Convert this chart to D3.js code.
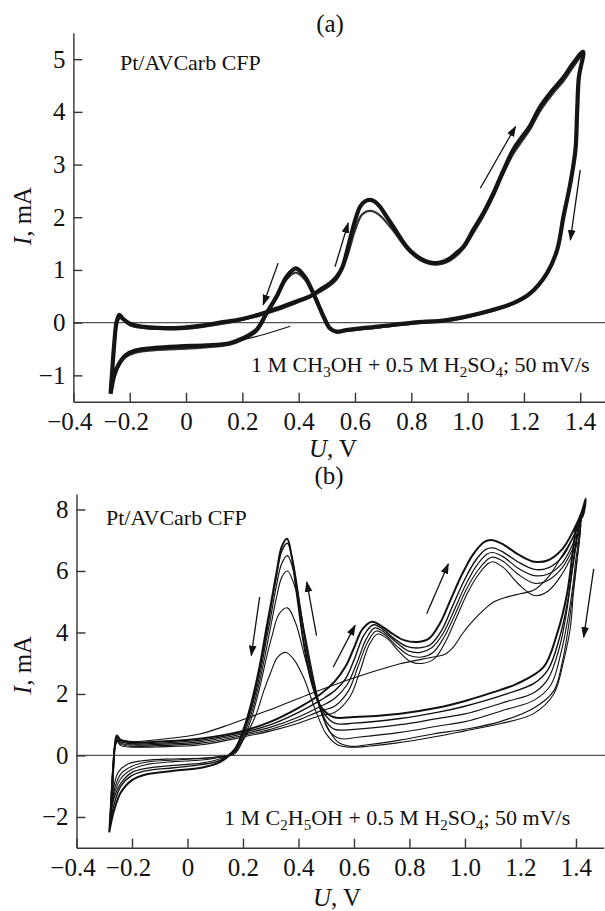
<!DOCTYPE html>
<html lang="en">
<head>
<meta charset="UTF-8">
<title>CV Pt/AVCarb CFP</title>
<script src="https://d3js.org/d3.v7.min.js"></script>
<style>
  body { margin: 0; background: #fff; }
  text { font-family: "Liberation Serif", "DejaVu Serif", serif; fill: #111; }
</style>
</head>
<body>
<script>
// tick values
const uTicks = [-0.4, -0.2, 0, 0.2, 0.4, 0.6, 0.8, 1.0, 1.2, 1.4];
const iTicksA = [-1, 0, 1, 2, 3, 4, 5];
const iTicksB = [-2, 0, 2, 4, 6, 8];

// panel (a): methanol, [U (V), I (mA)]
const cycleA1 = [
  [-0.268,-1.35],[-0.262,-0.9],[-0.255,-0.4],[-0.247,0.0],[-0.237,0.15],[-0.225,0.08],[-0.2,-0.02],
  [-0.15,-0.08],[-0.1,-0.1],[-0.02,-0.1],[0.05,-0.06],[0.12,0.0],[0.2,0.07],[0.274,0.18],[0.33,0.28],
  [0.392,0.4],[0.44,0.5],[0.475,0.62],[0.51,0.74],[0.535,0.87],[0.555,1.05],[0.57,1.32],[0.594,1.82],
  [0.618,2.2],[0.635,2.3],[0.653,2.33],[0.67,2.3],[0.689,2.2],[0.71,2.03],[0.736,1.82],[0.76,1.62],
  [0.784,1.44],[0.81,1.3],[0.831,1.22],[0.86,1.15],[0.885,1.13],[0.91,1.15],[0.938,1.22],[0.96,1.32],
  [0.985,1.44],[1.02,1.76],[1.056,2.08],[1.092,2.46],[1.128,2.9],[1.162,3.28],[1.19,3.5],[1.22,3.72],
  [1.258,4.1],[1.3,4.4],[1.34,4.65],[1.376,4.93],[1.41,5.14],
  [1.395,4.65],[1.389,4.0],[1.383,3.28],[1.365,2.65],[1.34,2.0],[1.318,1.38],[1.282,0.94],[1.223,0.56],
  [1.162,0.37],[1.045,0.18],[0.926,0.05],[0.807,0.0],[0.69,-0.07],[0.57,-0.14],[0.535,-0.17],[0.51,-0.1],
  [0.49,0.1],[0.452,0.56],[0.422,0.87],[0.39,1.03],[0.357,0.87],[0.321,0.49],[0.286,0.18],[0.25,-0.14],
  [0.2,-0.3],[0.155,-0.39],[0.07,-0.43],[-0.023,-0.45],[-0.11,-0.48],[-0.18,-0.53],[-0.215,-0.62],
  [-0.24,-0.8],[-0.255,-1.0],[-0.263,-1.2],[-0.268,-1.35]
];
const cycleA2 = [
  [-0.266,-1.3],[-0.26,-0.8],[-0.252,-0.3],[-0.243,0.02],[-0.232,0.1],[-0.2,-0.05],[-0.1,-0.12],
  [0.0,-0.12],[0.12,-0.03],[0.2,0.05],[0.28,0.16],[0.39,0.37],[0.475,0.58],[0.535,0.82],[0.57,1.22],
  [0.6,1.75],[0.625,2.05],[0.655,2.12],[0.685,2.05],[0.735,1.75],[0.784,1.4],[0.831,1.19],[0.885,1.1],
  [0.938,1.18],[0.985,1.4],[1.02,1.7],[1.056,2.02],[1.092,2.4],[1.128,2.84],[1.162,3.2],[1.19,3.42],
  [1.22,3.65],[1.258,4.02],[1.3,4.33],[1.34,4.58],[1.376,4.86],[1.405,5.05],
  [1.393,4.6],[1.387,3.9],[1.38,3.2],[1.362,2.6],[1.338,1.95],[1.315,1.33],[1.28,0.9],[1.22,0.53],
  [1.16,0.35],[1.045,0.16],[0.926,0.03],[0.807,-0.02],[0.69,-0.09],[0.57,-0.16],[0.535,-0.19],[0.51,-0.12],
  [0.488,0.08],[0.452,0.52],[0.422,0.82],[0.39,0.95],[0.357,0.82],[0.321,0.46],[0.286,0.15],[0.25,-0.17],
  [0.2,-0.33],[0.155,-0.42],[0.07,-0.47],[-0.023,-0.5],[-0.11,-0.52],[-0.18,-0.57],[-0.215,-0.66],
  [-0.24,-0.84],[-0.255,-1.05],[-0.263,-1.2],[-0.266,-1.3]
];
const startA = [[0.2,-0.33],[0.28,-0.22],[0.37,-0.07]];
const arrowsA = [
  [[0.327,1.13],[0.274,0.34]],
  [[0.529,1.06],[0.576,1.89]],
  [[1.045,2.55],[1.17,3.72]],
  [[1.40,2.9],[1.365,1.57]]
];

// panel (b): ethanol, six cycles, forward then backward
const cycleB1 = [
  [-0.282,-2.5],[-0.27,-0.8],[-0.262,0.3],[-0.255,0.65],[-0.24,0.5],[-0.2,0.42],[-0.1,0.45],[0.05,0.55],
  [0.2,0.8],[0.3,1.1],[0.4,1.55],[0.48,2.0],[0.53,2.4],[0.57,2.9],[0.6,3.5],[0.63,4.1],[0.665,4.35],
  [0.7,4.2],[0.74,3.95],[0.78,3.75],[0.83,3.69],[0.87,3.8],[0.91,4.3],[0.95,5.1],[0.99,5.9],[1.03,6.55],
  [1.07,6.95],[1.1,7.0],[1.14,6.85],[1.19,6.55],[1.25,6.3],[1.3,6.35],[1.35,6.7],[1.39,7.3],[1.42,7.9],
  [1.435,8.35],
  [1.425,7.8],[1.404,7.53],[1.392,6.88],[1.368,5.26],[1.332,3.96],[1.283,2.87],[1.187,2.33],[1.1,2.05],
  [1.007,1.79],[0.9,1.55],[0.766,1.36],[0.6,1.25],[0.525,1.25],[0.48,1.6],[0.45,2.3],[0.42,3.6],
  [0.395,5.2],[0.375,6.5],[0.359,7.05],[0.34,6.8],[0.32,5.9],[0.3,4.9],[0.285,4.17],[0.26,2.9],
  [0.23,1.7],[0.2,0.8],[0.17,0.2],[0.12,-0.2],[0.05,-0.4],[-0.05,-0.5],[-0.15,-0.62],[-0.2,-0.8],
  [-0.24,-1.2],[-0.265,-1.8],[-0.282,-2.5]
];
const cycleB2 = [
  [-0.28,-2.3],[-0.27,-0.6],[-0.262,0.3],[-0.255,0.6],[-0.24,0.45],[-0.2,0.38],[-0.1,0.4],[0.05,0.5],
  [0.2,0.75],[0.3,1.0],[0.4,1.4],[0.48,1.8],[0.53,2.1],[0.57,2.5],[0.6,3.1],[0.635,3.9],[0.67,4.25],
  [0.705,4.1],[0.745,3.8],[0.79,3.55],[0.835,3.5],[0.875,3.6],[0.915,4.05],[0.955,4.85],[0.995,5.65],
  [1.035,6.3],[1.075,6.7],[1.1,6.75],[1.14,6.6],[1.19,6.3],[1.25,6.05],[1.3,6.1],[1.35,6.45],[1.39,7.1],
  [1.415,7.6],[1.43,8.1],
  [1.42,7.7],[1.405,7.2],[1.39,6.3],[1.37,5.0],[1.34,3.8],[1.3,2.8],[1.25,2.35],[1.15,2.0],[1.0,1.6],
  [0.9,1.4],[0.766,1.2],[0.6,1.05],[0.53,1.05],[0.49,1.4],[0.46,2.1],[0.43,3.4],[0.405,4.9],[0.38,6.3],
  [0.36,6.9],[0.34,6.65],[0.32,5.8],[0.3,4.8],[0.285,4.0],[0.26,2.8],[0.23,1.6],[0.2,0.75],[0.17,0.2],
  [0.12,-0.15],[0.05,-0.3],[-0.05,-0.4],[-0.15,-0.5],[-0.2,-0.65],[-0.24,-1.0],[-0.265,-1.6],[-0.28,-2.3]
];
const cycleB3 = [
  [-0.278,-2.0],[-0.27,-0.5],[-0.262,0.3],[-0.255,0.55],[-0.24,0.4],[-0.2,0.34],[-0.1,0.36],[0.05,0.45],
  [0.2,0.7],[0.3,0.92],[0.4,1.25],[0.48,1.6],[0.53,1.85],[0.575,2.3],[0.61,3.0],[0.645,3.8],[0.675,4.15],
  [0.71,4.0],[0.75,3.7],[0.795,3.4],[0.84,3.35],[0.88,3.5],[0.92,3.95],[0.96,4.7],[1.0,5.5],[1.04,6.15],
  [1.08,6.55],[1.1,6.6],[1.14,6.45],[1.19,6.1],[1.25,5.85],[1.3,5.9],[1.35,6.25],[1.39,6.9],[1.41,7.4],
  [1.425,7.9],
  [1.41,7.4],[1.4,6.8],[1.385,5.9],[1.365,4.6],[1.34,3.5],[1.3,2.5],[1.25,2.05],[1.15,1.75],[1.0,1.35],
  [0.9,1.2],[0.766,1.0],[0.6,0.85],[0.53,0.85],[0.5,1.1],[0.47,1.8],[0.44,3.0],[0.41,4.5],[0.385,5.9],
  [0.36,6.5],[0.34,6.25],[0.32,5.5],[0.3,4.5],[0.285,3.8],[0.26,2.6],[0.23,1.5],[0.2,0.7],[0.17,0.15],
  [0.12,-0.1],[0.05,-0.25],[-0.05,-0.32],[-0.15,-0.42],[-0.2,-0.55],[-0.24,-0.9],[-0.265,-1.4],[-0.278,-2.0]
];
const cycleB4 = [
  [-0.275,-1.8],[-0.268,-0.4],[-0.262,0.3],[-0.255,0.5],[-0.24,0.36],[-0.2,0.3],[-0.1,0.32],[0.05,0.4],
  [0.2,0.65],[0.3,0.85],[0.4,1.15],[0.48,1.45],[0.53,1.6],[0.58,2.1],[0.615,2.9],[0.65,3.7],[0.68,4.05],
  [0.715,3.9],[0.755,3.55],[0.8,3.25],[0.845,3.2],[0.885,3.35],[0.925,3.85],[0.965,4.6],[1.005,5.4],
  [1.045,6.0],[1.085,6.4],[1.1,6.45],[1.14,6.3],[1.19,5.9],[1.25,5.6],[1.3,5.7],[1.35,6.1],[1.39,6.75],
  [1.41,7.2],[1.42,7.7],
  [1.41,7.0],[1.4,6.4],[1.39,5.6],[1.37,4.4],[1.345,3.3],[1.31,2.3],[1.25,1.8],[1.15,1.5],[1.0,1.1],
  [0.9,0.95],[0.766,0.75],[0.62,0.6],[0.55,0.55],[0.51,0.8],[0.48,1.5],[0.45,2.7],[0.42,4.1],[0.39,5.4],
  [0.36,6.0],[0.34,5.8],[0.32,5.1],[0.3,4.2],[0.285,3.5],[0.26,2.4],[0.23,1.35],[0.2,0.6],[0.17,0.1],
  [0.12,-0.05],[0.05,-0.15],[-0.05,-0.2],[-0.15,-0.3],[-0.2,-0.45],[-0.24,-0.75],[-0.262,-1.2],[-0.275,-1.8]
];
const cycleB5 = [
  [-0.272,-1.5],[-0.266,-0.3],[-0.26,0.3],[-0.253,0.45],[-0.24,0.32],[-0.2,0.27],[-0.1,0.28],[0.05,0.35],
  [0.2,0.6],[0.3,0.8],[0.4,1.05],[0.48,1.3],[0.53,1.4],[0.585,1.9],[0.62,2.7],[0.655,3.6],[0.685,3.95],
  [0.72,3.8],[0.76,3.4],[0.805,3.05],[0.85,3.0],[0.89,3.15],[0.93,3.7],[0.97,4.5],[1.01,5.3],[1.05,5.9],
  [1.085,6.25],[1.1,6.3],[1.14,6.1],[1.19,5.6],[1.25,5.2],[1.3,5.35],[1.35,5.9],[1.39,6.6],[1.41,7.0],
  [1.418,7.5],
  [1.41,6.8],[1.4,6.1],[1.385,5.0],[1.37,4.0],[1.35,3.0],[1.32,2.1],[1.25,1.55],[1.127,1.1],[1.0,0.85],
  [0.886,0.7],[0.766,0.5],[0.65,0.35],[0.586,0.3],[0.54,0.45],[0.5,1.0],[0.46,2.0],[0.42,3.3],[0.39,4.3],
  [0.36,4.8],[0.33,4.6],[0.305,3.9],[0.285,3.2],[0.26,2.2],[0.23,1.2],[0.2,0.5],[0.17,0.05],[0.12,-0.05],
  [0.05,-0.1],[-0.05,-0.15],[-0.15,-0.22],[-0.2,-0.35],[-0.24,-0.6],[-0.26,-1.0],[-0.272,-1.5]
];
const cycleB6 = [
  [-0.27,-1.3],[-0.265,-0.2],[-0.26,0.35],[-0.25,0.5],[-0.2,0.45],[-0.1,0.52],[0.044,0.7],[0.15,1.0],
  [0.225,1.25],[0.33,1.6],[0.441,2.0],[0.53,2.3],[0.61,2.55],[0.766,2.98],[0.886,3.2],[0.93,3.3],
  [0.958,3.52],[0.99,3.95],[1.03,4.39],[1.07,4.75],[1.103,4.99],[1.15,5.15],[1.2,5.26],[1.247,5.37],
  [1.3,5.8],[1.35,6.5],[1.39,7.1],[1.416,7.64],
  [1.404,6.34],[1.39,5.2],[1.38,4.17],[1.356,3.09],[1.32,2.0],[1.247,1.36],[1.127,1.03],[1.0,0.8],
  [0.886,0.6],[0.75,0.4],[0.65,0.3],[0.586,0.27],[0.54,0.35],[0.5,0.7],[0.46,1.5],[0.42,2.5],[0.385,3.1],
  [0.355,3.35],[0.325,3.2],[0.3,2.7],[0.275,2.1],[0.25,1.4],[0.22,0.8],[0.19,0.35],[0.16,0.05],[0.1,-0.05],
  [0.02,-0.1],[-0.08,-0.12],[-0.17,-0.18],[-0.22,-0.3],[-0.25,-0.55],[-0.265,-1.0],[-0.27,-1.3]
];
const arrowsB = [
  [[0.26,5.15],[0.23,3.25]],
  [[0.465,3.9],[0.43,5.64]],
  [[0.525,2.87],[0.604,4.23]],
  [[0.862,4.61],[0.94,6.23]],
  [[1.464,6.07],[1.428,3.85]]
];

const W = 605, H = 911;
const svg = d3.select("body").append("svg")
  .attr("width", W).attr("height", H);

svg.append("defs").append("marker")
  .attr("id", "head")
  .attr("viewBox", "0 0 10 10")
  .attr("refX", 9).attr("refY", 5)
  .attr("markerWidth", 11).attr("markerHeight", 11)
  .attr("markerUnits", "userSpaceOnUse")
  .attr("orient", "auto")
  .append("path").attr("d", "M0,1.5 L10,5 L0,8.5 Z").attr("fill", "#111");

const fmtU = d => d === 0 ? "0" : d3.format(".1f")(d);

function drawPanel(p) {
  const x = d3.scaleLinear().domain([-0.4, 1.5]).range(p.xRange);
  const y = d3.scaleLinear().domain(p.yDomain).range(p.yRange);
  const g = svg.append("g");

  // zero line
  g.append("line")
    .attr("x1", x(-0.4)).attr("x2", W)
    .attr("y1", y(0)).attr("y2", y(0))
    .attr("stroke", "#555").attr("stroke-width", 1.2);

  const xAxis = g.append("g")
    .attr("transform", `translate(0,${p.yRange[0]})`)
    .call(d3.axisBottom(x).tickValues(uTicks).tickFormat(fmtU)
      .tickSizeInner(-9).tickSizeOuter(0).tickPadding(11));
  const yAxis = g.append("g")
    .attr("transform", `translate(${p.xRange[0]},0)`)
    .call(d3.axisLeft(y).tickValues(p.iTicks).tickFormat(d3.format("d"))
      .tickSizeInner(-9).tickSizeOuter(0).tickPadding(8));
  [xAxis, yAxis].forEach(a => {
    a.selectAll("path,line").attr("stroke", "#333").attr("stroke-width", 1.4);
    a.selectAll("text").style("font-family", "'Liberation Serif', serif")
      .style("font-size", "25px").attr("fill", "#111");
  });
  // minus-signed labels sit a little left of their tick
  xAxis.selectAll(".tick text").attr("dx", d => d < 0 ? -4 : 0);

  const line = d3.line()
    .x(d => x(d[0])).y(d => y(d[1]))
    .curve(d3.curveCatmullRom.alpha(0.5));

  p.curves.forEach(c => {
    g.append("path").datum(c.data)
      .attr("d", line)
      .attr("fill", "none")
      .attr("stroke", c.color || "#111")
      .attr("stroke-width", c.w)
      .attr("stroke-linejoin", "round");
  });

  p.arrows.forEach(a => {
    g.append("line")
      .attr("x1", x(a[0][0])).attr("y1", y(a[0][1]))
      .attr("x2", x(a[1][0])).attr("y2", y(a[1][1]))
      .attr("stroke", "#111").attr("stroke-width", 1.3)
      .attr("marker-end", "url(#head)");
  });

  // panel letter
  g.append("text").attr("x", p.title[0]).attr("y", p.title[1])
    .attr("text-anchor", "middle").style("font-size", "25px").text(p.label);

  // axis titles
  const xt = g.append("text").attr("x", p.xTitle[0]).attr("y", p.xTitle[1])
    .attr("text-anchor", "middle").style("font-size", "25px");
  xt.append("tspan").style("font-style", "italic").text("U");
  xt.append("tspan").text(", V");

  const yt = g.append("text")
    .attr("transform", `translate(${p.yTitle[0]},${p.yTitle[1]}) rotate(-90)`)
    .attr("text-anchor", "middle").style("font-size", "25px");
  yt.append("tspan").style("font-style", "italic").text("I");
  yt.append("tspan").text(", mA");

  g.append("text").attr("x", p.sample[0]).attr("y", p.sample[1])
    .style("font-size", "22px").text("Pt/AVCarb CFP");

  const cond = g.append("text").attr("x", p.cond[0]).attr("y", p.cond[1])
    .style("font-size", "22px");
  p.condParts.forEach(part => {
    if (part.sub) {
      cond.append("tspan").attr("dy", 5).style("font-size", "15px").text(part.t);
    } else {
      cond.append("tspan").attr("dy", part.after ? -5 : 0).text(part.t);
    }
  });
}

drawPanel({
  label: "(a)", title: [330, 32],
  xRange: [73.4, 608.4], yDomain: [-1.5, 5.5], yRange: [401.7, 32.8],
  iTicks: iTicksA,
  curves: [
    { data: cycleA2, w: 2.2, color: "#333" },
    { data: cycleA1, w: 4.2, color: "#151515" },
    { data: startA, w: 1.1 }
  ],
  arrows: arrowsA,
  xTitle: [333, 457], yTitle: [31, 216],
  sample: [120, 70], cond: [251, 372],
  condParts: [
    { t: "1 M CH" }, { t: "3", sub: true }, { t: "OH + 0.5 M H", after: true },
    { t: "2", sub: true }, { t: "SO", after: true }, { t: "4", sub: true },
    { t: "; 50 mV/s", after: true }
  ]
});

drawPanel({
  label: "(b)", title: [329, 484],
  xRange: [76.5, 603.7], yDomain: [-3, 8.5], yRange: [847.7, 494.1],
  iTicks: iTicksB,
  curves: [
    { data: cycleB6, w: 1.1 },
    { data: cycleB5, w: 1.1 },
    { data: cycleB4, w: 1.1 },
    { data: cycleB3, w: 1.2 },
    { data: cycleB2, w: 1.4 },
    { data: cycleB1, w: 2.0 }
  ],
  arrows: arrowsB,
  xTitle: [337, 906], yTitle: [31, 665],
  sample: [106, 525], cond: [224, 825],
  condParts: [
    { t: "1 M C" }, { t: "2", sub: true }, { t: "H", after: true }, { t: "5", sub: true },
    { t: "OH + 0.5 M H", after: true }, { t: "2", sub: true }, { t: "SO", after: true },
    { t: "4", sub: true }, { t: "; 50 mV/s", after: true }
  ]
});
</script>
</body>
</html>
